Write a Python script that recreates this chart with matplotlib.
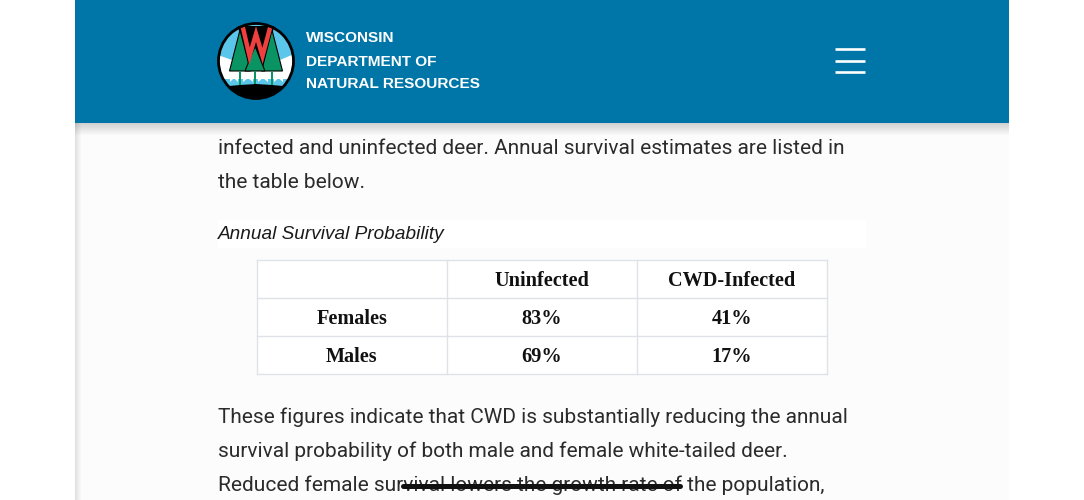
import matplotlib
matplotlib.use('Agg')
import matplotlib.pyplot as plt
from matplotlib.patches import Circle, Polygon, Rectangle

# === table values ===
col_labels = ['Uninfected', 'CWD-Infected']
row_labels = ['Females', 'Males']
uninfected = ['83%', '69%']
cwd_infected = ['41%', '17%']

title_lines = ['WISCONSIN', 'DEPARTMENT OF', 'NATURAL RESOURCES']
text_top = ['infected and uninfected deer. Annual survival estimates are listed in',
            'the table below.']
text_bottom = ['These figures indicate that CWD is substantially reducing the annual',
               'survival probability of both male and female white-tailed deer.',
               'Reduced female survival lowers the growth rate of the population,']

BLUE = '#0076a8'
GRID = '#dfe3e8'
INK = '#2b2b2b'
BODY_FONT = 'Roboto'

fig = plt.figure(figsize=(10.84, 5.0), dpi=100, facecolor='white')
ax = fig.add_axes([0, 0, 1, 1])
ax.set_xlim(0, 1084)
ax.set_ylim(500, 0)
ax.axis('off')

# === page and shadows ===
ax.add_patch(Rectangle((75, 0), 934, 500, fc='#fcfcfc', ec='none', zorder=0))
for i in range(6):
    ax.add_patch(Rectangle((75 + i, 123), 1, 377, fc='black', alpha=0.018 * (6 - i), ec='none', zorder=1))
for i in range(12):
    ax.add_patch(Rectangle((75, 123 + i), 934, 1, fc='black', alpha=0.014 * (12 - i), ec='none', zorder=1))
ax.add_patch(Rectangle((75, 0), 934, 123, fc=BLUE, ec='none', zorder=2))

# === logo ===
cx, cy = 256, 61
clip = Circle((cx, cy), 37, transform=ax.transData)
logo = [
    Rectangle((218, 23), 76, 76, fc='#5cc6ea', ec='none', zorder=3),
    Polygon([(218, 55), (232, 60), (280, 60), (294, 54), (294, 79), (218, 79)], fc='white', ec='none', zorder=3),
    Polygon([(218, 87), (240, 85), (256, 84), (272, 85), (294, 87), (294, 99), (218, 99)], fc='black', ec='none', zorder=6),
]
for p in logo:
    ax.add_patch(p)
    p.set_clip_path(clip)
ax.add_patch(Rectangle((218, 79), 76, 6, fc='#5cc6ea', ec='none', zorder=3, clip_path=clip))
# snow flags under the branches
for x0, x1 in [(230, 238), (243, 253), (258, 268), (274, 283)]:
    ax.add_patch(Polygon([(x0, 71), (x1, 71), (x1, 82), ((x0 + x1) / 2, 78), (x0, 82)], fc='white', ec='none', zorder=4))
# black backing behind the W, then trees
ax.add_patch(Polygon([(238, 26), (274, 26), (266, 71), (246, 71)], fc='black', ec='none', zorder=3))
for tx, top, half in [(240, 30, 10.5), (272, 30, 10.5), (255, 46, 10)]:
    ax.add_patch(Polygon([(tx, top), (tx - half, 71), (tx + half, 71)], fc='#0b9463', ec='black', lw=0.8, zorder=5))
    ax.add_patch(Rectangle((tx - 1.2, 71), 2.6, 15, fc='#0b9463', ec='none', zorder=5))
ax.add_patch(Polygon([(240, 26), (272, 26), (264, 62), (256, 46), (248, 62)], fc='black', ec='none', zorder=5.5))
ax.plot([243, 249.5, 256, 262.5, 270], [28, 56, 34, 56, 28], color='#ef4040', lw=3.2, solid_joinstyle='miter', zorder=6)
ax.add_patch(Circle((cx, cy), 37.5, fc='none', ec='black', lw=2.0, zorder=7))

# === header text and menu icon ===
for y, line in zip([38, 61, 84], title_lines):
    ax.text(306, y + 0.5, line, color='white', fontsize=11.1, fontweight='bold', va='center', ha='left',
            family='Liberation Sans', zorder=6)
for y in [49, 61, 72]:
    ax.plot([834.5, 864.5], [y, y], color='white', lw=1.9, solid_capstyle='butt', zorder=6)

# === body text ===
for y, line in zip([149, 183], text_top):
    ax.text(218, y, line, color=INK, fontsize=15.05, va='center', ha='left', family=BODY_FONT, zorder=3)
for y, line in zip([417, 451, 485], text_bottom):
    ax.text(218, y, line, color=INK, fontsize=15.05, va='center', ha='left', family=BODY_FONT, zorder=3)
ax.plot([403, 680], [486, 486], color='#111111', lw=3.6, solid_capstyle='round', zorder=4)

# === caption ===
ax.add_patch(Rectangle((218, 220), 648, 28, fc='white', ec='none', zorder=2))
ax.text(218, 234.5, 'Annual Survival Probability', color='#1a1a1a', fontsize=13.7, style='italic',
        va='center', ha='left', family='Liberation Sans', zorder=3)

# === table ===
col_x = [257, 447, 637, 826.5]
row_y = [260, 298, 336, 373.5]
ax.add_patch(Rectangle((257, 260), 570, 114, fc='white', ec='none', zorder=2))
for x in col_x:
    ax.plot([x, x], [row_y[0], row_y[-1]], color=GRID, lw=1.0, zorder=3)
for y in row_y:
    ax.plot([col_x[0], col_x[-1]], [y, y], color=GRID, lw=1.0, zorder=3)

cells = [[''] + col_labels]
for name, a, b in zip(row_labels, uninfected, cwd_infected):
    cells.append([name, a, b])
for r, row in enumerate(cells):
    for c, val in enumerate(row):
        ax.text((col_x[c] + col_x[c + 1]) / 2, (row_y[r] + row_y[r + 1]) / 2 + 2, val, color='#111111',
                fontsize=14.6, fontweight='bold', ha='center', va='center', family='Liberation Serif', zorder=4)

fig.savefig('out.png', dpi=100)
